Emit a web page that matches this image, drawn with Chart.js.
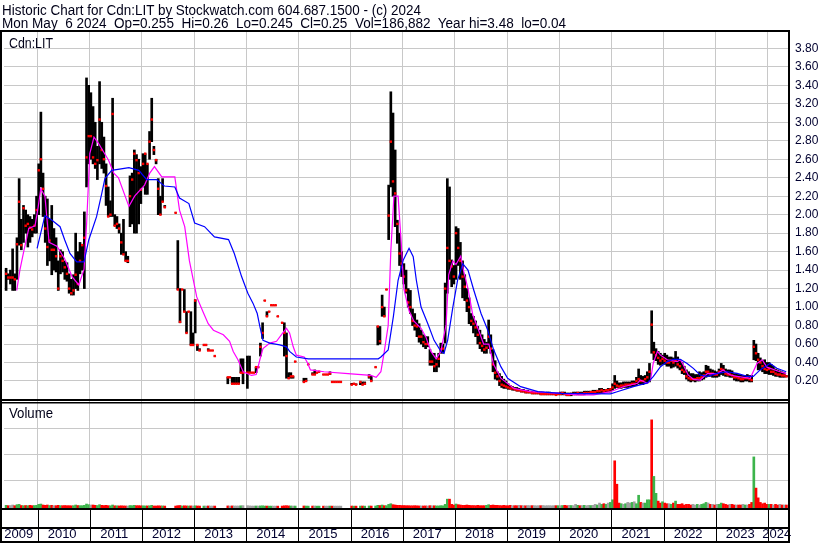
<!DOCTYPE html>
<html><head><meta charset="utf-8">
<script src="https://cdn.jsdelivr.net/npm/chart.js@4.4.1/dist/chart.umd.min.js"></script>
<style>
html,body{margin:0;padding:0;background:#fff;}
#wrap{position:relative;width:830px;height:543px;overflow:hidden;background:#fff;}
canvas{position:absolute;left:0;top:0;}
.t{position:absolute;font-family:"Liberation Sans",Arial,sans-serif;font-size:14px;line-height:16px;color:#000018;white-space:pre;transform-origin:0 0;}
</style></head><body>
<div id="wrap">
<canvas id="c" width="830" height="543"></canvas>
<div class="t" id="h1" style="left:2px;top:2px">Historic Chart for Cdn:LIT by Stockwatch.com 604.687.1500 - (c) 2024</div>
<div class="t" id="h2" style="left:2px;top:15px">Mon May  6 2024  Op=0.255  Hi=0.26  Lo=0.245  Cl=0.25  Vol=186,882  Year hi=3.48  lo=0.04</div>
<div class="t" id="l1" style="left:9px;top:35px">Cdn:LIT</div>
<div class="t" id="l2" style="left:9px;top:405px">Volume</div>
</div>
<script>
// ---- data: half-month bars, first bar = second half of May 2009 ----
const years = [2009,2010,2011,2012,2013,2014,2015,2016,2017,2018,2019,2020,2021,2022,2023,2024];
const hi = [
/*2009*/1.42,1.36,1.40,1.63,1.36,1.75,2.39,1.95,2.10,2.05,2.00,1.98,1.95,2.00,2.20,
/*2010*/2.55,3.11,2.45,2.20,2.17,1.95,2.10,1.85,1.75,1.50,1.62,1.60,1.50,1.48,1.36,1.30,1.35,1.80,1.60,1.70,1.68,2.03,3.48,3.40,
/*2011*/3.32,3.17,3.00,2.74,3.44,3.00,2.84,2.55,2.30,2.15,3.26,2.00,1.98,1.90,1.80,1.95,1.60,1.55,2.42,2.45,2.70,2.65,2.60,2.52,
/*2012*/2.66,2.66,2.55,2.90,3.26,2.74,2.60,2.39,2.20,2.39,2.10,null,null,null,null,2.02,1.72,1.20,1.19,1.19,0.95,0.95,0.95,0.72,
/*2013*/1.08,0.59,0.55,null,0.59,0.59,0.55,0.53,0.53,0.47,null,null,null,null,null,0.24,0.24,0.24,0.24,0.24,0.24,0.44,0.44,null,
/*2014*/0.47,0.47,0.29,0.29,0.35,0.35,0.61,0.83,1.07,0.95,0.95,1.02,1.02,1.02,0.90,null,0.83,0.83,0.72,0.29,0.29,0.25,0.41,null,
/*2015*/null,null,0.23,0.23,0.38,null,0.29,0.32,0.29,0.30,null,0.27,0.27,0.27,0.30,0.19,0.19,0.19,0.19,0.19,null,null,null,null,
/*2016*/0.175,0.17,0.17,null,0.19,0.19,0.19,null,0.27,0.25,null,0.35,0.79,0.79,1.13,1.00,1.19,2.32,3.33,3.10,2.70,1.94,1.80,1.60,
/*2017*/1.47,1.40,1.20,1.18,0.98,0.93,0.86,0.82,0.75,0.70,0.68,0.68,0.54,0.50,0.50,0.45,0.50,0.61,0.60,1.26,2.39,2.30,1.51,1.45,
/*2018*/1.87,1.85,1.70,1.50,1.35,1.20,1.10,0.93,0.90,0.85,0.79,0.75,0.70,0.65,0.62,0.86,0.70,0.54,0.42,0.30,0.28,0.25,0.22,0.20,
/*2019*/.17,.15,.14,.13,.13,.12,.11,.11,.10,.10,.09,.09,.08,.08,.08,.08,.08,.07,.08,.08,.07,.07,.07,.07,
/*2020*/.08,.08,.08,.07,.07,.07,.08,.08,.08,.08,.08,.09,.09,.09,.09,.10,.10,.10,.12,.12,.11,.11,.12,.12,
/*2021*/.17,.26,.20,.18,.18,.19,.19,.19,.19,.20,.20,.24,.33,.26,.25,.26,.30,.39,.96,.62,.55,.52,.50,.48,
/*2022*/.50,.48,.46,.46,.45,.52,.46,.43,.40,.36,.32,.30,.28,.28,.27,.27,.30,.29,.30,.37,.36,.33,.32,.31,
/*2023*/.30,.33,.39,.37,.33,.32,.32,.31,.28,.28,.27,.27,.26,.26,.27,.26,.26,.64,.60,.50,.45,.42,.43,.40,
/*2024*/.40,.38,.36,.33,.32,.31,.30,.29,.26
];
const lo = [
/*2009*/1.18,1.30,1.25,1.18,1.18,1.30,1.67,1.62,1.70,1.80,1.65,1.70,1.76,1.80,1.80,
/*2010*/2.00,2.30,1.98,1.70,1.45,1.50,1.35,1.40,1.38,1.18,1.36,1.38,1.30,1.28,1.15,1.13,1.13,1.20,1.18,1.36,1.40,1.20,2.30,2.55,
/*2011*/2.60,2.55,2.50,2.38,2.55,2.50,2.45,2.10,1.98,1.98,1.98,1.88,1.85,1.80,1.57,1.57,1.50,1.48,1.87,1.90,1.80,1.80,1.90,2.12,
/*2012*/2.30,2.22,2.22,2.60,2.79,2.65,2.55,2.00,2.00,2.14,2.08,null,null,null,null,2.02,1.19,0.83,1.19,0.95,0.72,0.95,0.59,0.59,
/*2013*/0.72,0.53,0.53,null,0.59,0.59,0.53,0.53,0.53,0.47,null,null,null,null,null,0.17,0.24,0.17,0.17,0.17,0.17,0.29,0.17,null,
/*2014*/0.12,0.29,0.29,0.29,0.29,0.35,0.47,0.66,1.07,0.90,0.95,1.02,1.02,1.02,0.90,null,0.83,0.47,0.23,0.23,0.23,0.23,0.41,null,
/*2015*/null,null,0.19,0.20,0.38,null,0.27,0.27,0.29,0.30,null,0.27,0.27,0.27,0.27,0.19,0.19,0.19,0.19,0.19,null,null,null,null,
/*2016*/0.16,0.16,0.16,null,0.16,0.16,0.16,null,0.23,0.20,null,0.35,0.59,0.60,0.90,0.90,1.19,1.73,2.30,2.20,1.87,1.69,1.45,1.33,
/*2017*/1.25,1.15,1.00,0.93,0.80,0.75,0.68,0.62,0.60,0.57,0.55,0.57,0.37,0.37,0.30,0.30,0.35,0.50,0.50,0.61,1.15,1.30,1.22,1.25,
/*2018*/1.30,1.45,1.30,1.10,1.07,0.95,0.82,0.80,0.72,0.68,0.60,0.55,0.52,0.50,0.50,0.55,0.50,0.30,0.22,0.21,0.15,0.13,0.12,0.12,
/*2019*/.11,.11,.10,.10,.09,.09,.08,.08,.07,.07,.07,.06,.06,.06,.06,.05,.05,.05,.05,.05,.05,.05,.05,.05,
/*2020*/.05,.05,.05,.04,.04,.04,.05,.05,.05,.05,.05,.05,.06,.06,.06,.06,.07,.07,.07,.07,.07,.08,.08,.08,
/*2021*/.10,.12,.13,.12,.12,.13,.13,.13,.14,.14,.15,.15,.17,.16,.16,.17,.18,.19,.50,.43,.42,.38,.37,.38,
/*2022*/.38,.36,.36,.34,.35,.36,.34,.32,.28,.27,.22,.20,.19,.20,.19,.20,.20,.21,.22,.24,.25,.25,.24,.24,
/*2023*/.24,.25,.27,.26,.25,.25,.24,.24,.21,.20,.20,.19,.19,.20,.20,.19,.19,.43,.42,.32,.32,.30,.28,.28,
/*2024*/.27,.27,.26,.25,.25,.24,.24,.24,.245
];
const cl = [
/*2009*/1.36,1.32,1.32,1.32,1.30,1.68,2.14,1.67,2.07,1.88,1.90,1.86,1.84,1.88,2.05,
/*2010*/2.48,2.60,2.28,1.85,1.65,1.72,1.62,1.62,1.55,1.20,1.55,1.50,1.43,1.36,1.20,1.15,1.18,1.35,1.25,1.50,1.67,1.75,2.62,2.85,
/*2011*/2.85,2.62,2.55,2.59,3.03,2.70,2.60,2.31,1.98,2.00,3.09,1.88,1.90,1.85,1.70,1.57,1.50,1.50,2.20,2.38,2.66,2.59,2.45,2.27,
/*2012*/2.55,2.66,2.55,2.79,3.03,2.70,2.59,2.28,2.00,2.14,2.08,null,null,null,null,2.02,1.19,0.84,1.19,0.95,0.72,0.95,0.59,0.59,
/*2013*/1.07,0.59,0.53,null,0.59,0.59,0.53,0.53,0.53,0.47,null,null,null,null,null,0.24,0.24,0.17,0.17,0.17,0.17,0.29,0.29,null,
/*2014*/0.29,0.29,0.29,0.29,0.35,0.35,0.57,0.72,1.07,0.90,0.95,1.02,1.02,1.02,0.90,null,0.83,0.72,0.47,0.23,0.25,0.25,0.41,null,
/*2015*/null,null,0.19,0.20,0.38,null,0.27,0.27,0.29,0.30,null,0.27,0.27,0.27,0.28,0.19,0.19,0.19,0.19,0.19,null,null,null,null,
/*2016*/0.16,0.17,0.16,null,0.19,0.16,0.17,null,0.25,0.20,null,0.35,0.79,0.63,1.00,0.90,1.19,1.99,2.79,2.36,2.23,1.90,1.58,1.47,
/*2017*/1.33,1.18,1.05,1.00,0.85,0.80,0.79,0.68,0.68,0.62,0.60,0.60,0.41,0.41,0.36,0.38,0.44,0.54,0.55,1.20,1.64,1.50,1.44,1.33,
/*2018*/1.80,1.64,1.50,1.33,1.22,1.07,1.00,0.85,0.82,0.78,0.70,0.61,0.58,0.54,0.56,0.68,0.55,0.38,0.29,0.25,0.20,0.16,0.15,0.14,
/*2019*/.13,.12,.12,.11,.10,.10,.09,.09,.08,.08,.08,.07,.07,.07,.07,.06,.06,.06,.06,.06,.06,.06,.05,.06,
/*2020*/.06,.07,.06,.05,.05,.06,.06,.06,.07,.06,.06,.07,.07,.07,.08,.08,.08,.09,.09,.10,.09,.10,.10,.11,
/*2021*/.13,.17,.15,.14,.15,.15,.16,.16,.16,.17,.17,.20,.22,.20,.20,.22,.24,.30,.81,.51,.48,.45,.42,.44,
/*2022*/.42,.40,.40,.42,.40,.42,.38,.36,.32,.30,.25,.23,.22,.22,.22,.23,.23,.24,.26,.30,.30,.28,.28,.27,
/*2023*/.27,.30,.33,.32,.28,.27,.27,.26,.24,.24,.23,.22,.22,.23,.23,.22,.21,.57,.50,.43,.40,.36,.33,.32,
/*2024*/.33,.30,.30,.28,.27,.27,.26,.26,.25
];
// volume in millions of shares
const vol = [
/*2009*/.15,.10,.12,.20,.10,.25,.30,.12,.10,.12,.10,.15,.10,.12,.15,
/*2010*/.30,.35,.20,.15,.20,.12,.15,.10,.10,.15,.10,.10,.12,.10,.10,.08,.10,.20,.12,.10,.10,.15,.35,.25,
/*2011*/.20,.20,.15,.12,.25,.15,.12,.15,.10,.08,.20,.08,.08,.06,.08,.06,.05,.05,.12,.10,.15,.10,.10,.08,
/*2012*/.08,.06,.06,.08,.15,.05,.05,.08,.06,.06,.04,null,null,null,null,.04,.10,.12,.05,.08,.06,.05,.06,.05,
/*2013*/.08,.05,.04,null,.04,.04,.05,.04,.04,.04,null,null,null,null,null,.06,.04,.06,.05,.05,.05,.08,.10,null,
/*2014*/.10,.06,.04,.04,.05,.04,.06,.08,.04,.04,.03,.03,.03,.03,.03,null,.04,.08,.10,.06,.05,.04,.04,null,
/*2015*/null,null,.05,.04,.03,null,.04,.05,.03,.03,null,.03,.03,.03,.04,.03,.03,.03,.03,.03,null,null,null,null,
/*2016*/.04,.03,.03,null,.04,.04,.03,null,.05,.04,null,.05,.15,.12,.20,.10,.10,.30,.40,.25,.20,.15,.15,.12,
/*2017*/.12,.10,.10,.08,.08,.10,.08,.06,.06,.05,.06,.05,.10,.08,.08,.06,.06,.10,.08,.30,1.1,1.1,.30,.20,
/*2018*/.35,.25,.20,.15,.15,.20,.15,.12,.12,.10,.15,.10,.10,.10,.15,.25,.15,.20,.15,.15,.12,.10,.15,.10,
/*2019*/.10,.15,.10,.10,.10,.15,.10,.10,.08,.12,.10,.10,.10,.08,.10,.10,.12,.08,.10,.10,.08,.10,.10,.10,
/*2020*/.10,.12,.15,.10,.15,.12,.10,.30,.15,.10,.12,.15,.10,.15,.12,.15,.30,.20,.50,.30,.40,.30,.50,.60,
/*2021*/1.0,7.0,3.4,.50,.40,.30,.40,.60,.50,.60,.70,.40,1.7,.60,.50,.50,1.0,1.0,13.3,4.6,2.0,.80,.50,.70,
/*2022*/.50,.40,.40,.30,.50,.80,.30,.30,.40,.20,.30,.30,.20,.30,.20,.30,.20,.30,.40,.60,.50,.30,.30,.20,
/*2023*/.30,.30,.50,.40,.30,.20,.30,.30,.20,.20,.20,.20,.30,.20,.20,.30,.60,7.6,2.8,1.3,.60,.40,.50,.30,
/*2024*/.30,.30,.20,.30,.20,.30,.20,.20,.20
];
const volColorFix = [[2021,1,'r'],[2021,2,'r'],[2021,18,'r'],[2021,19,'g'],[2021,20,'g']];
// short moving average (magenta)
const fastX = [2009.60,2009.66,2009.74,2009.83,2009.95,2010.01,2010.06,2010.14,2010.22,2010.37,2010.52,2010.66,2010.79,2010.89,2010.94,2011.00,2011.08,2011.17,2011.36,2011.46,2011.55,2011.75,2011.86,2012.05,2012.15,2012.24,2012.38,2012.63,2012.72,2012.82,2012.91,2013.05,2013.17,2013.27,2013.37,2013.56,2013.68,2013.75,2013.84,2013.94,2014.10,2014.19,2014.26,2014.32,2014.45,2014.58,2014.70,2014.77,2014.83,2014.90,2014.96,2015.11,2015.17,2015.23,2015.49,2015.95,2016.39,2016.49,2016.58,2016.64,2016.72,2016.77,2016.83,2016.91,2016.97,2017.02,2017.12,2017.21,2017.35,2017.44,2017.54,2017.64,2017.73,2017.83,2017.88,2017.96,2018.02,2018.11,2018.17,2018.25,2018.34,2018.44,2018.55,2018.65,2018.74,2018.88,2019.13,2019.45,2020.03,2020.35,2020.66,2020.98,2021.23,2021.50,2021.55,2021.69,2021.75,2021.80,2021.88,2021.94,2022.07,2022.26,2022.32,2022.38,2022.47,2022.57,2022.70,2022.84,2023.03,2023.14,2023.28,2023.41,2023.66,2023.79,2023.89,2023.98,2024.23,2024.35];
const fastY = [1.18,1.40,1.62,1.85,1.88,2.08,2.28,2.20,1.70,1.66,1.52,1.33,1.24,1.41,1.91,2.66,2.84,2.77,2.59,2.45,2.40,2.09,2.20,2.32,2.45,2.52,2.41,2.41,2.05,1.87,1.50,1.11,0.95,0.82,0.75,0.70,0.63,0.52,0.43,0.30,0.26,0.27,0.43,0.55,0.61,0.63,0.72,0.77,0.72,0.57,0.48,0.46,0.40,0.32,0.30,0.28,0.26,0.24,0.30,0.50,0.80,1.60,2.20,2.20,1.70,1.20,0.96,0.85,0.77,0.68,0.52,0.44,0.52,0.81,1.35,1.50,1.46,1.55,1.38,1.20,0.92,0.77,0.60,0.60,0.38,0.23,0.12,0.085,0.067,0.05,0.05,0.084,0.138,0.175,0.21,0.175,0.21,0.39,0.52,0.48,0.43,0.41,0.43,0.37,0.265,0.218,0.21,0.28,0.28,0.32,0.265,0.25,0.23,0.39,0.43,0.35,0.30,0.28];
// long moving average (blue)
const slowX = [2009.99,2010.14,2010.27,2010.43,2010.52,2010.62,2010.75,2010.89,2010.98,2011.13,2011.23,2011.29,2011.42,2011.75,2011.94,2012.09,2012.28,2012.43,2012.63,2012.72,2012.90,2013.01,2013.20,2013.39,2013.66,2013.77,2013.91,2014.03,2014.13,2014.21,2014.26,2014.32,2014.45,2014.64,2014.77,2014.83,2014.96,2015.19,2015.95,2016.53,2016.58,2016.72,2016.82,2016.91,2017.01,2017.12,2017.20,2017.26,2017.35,2017.48,2017.60,2017.73,2017.79,2017.86,2017.96,2018.05,2018.15,2018.25,2018.36,2018.50,2018.63,2018.74,2018.88,2019.01,2019.26,2019.59,2020.03,2020.98,2021.11,2021.42,2021.69,2021.80,2021.94,2022.07,2022.19,2022.32,2022.45,2022.57,2022.70,2022.84,2023.03,2023.22,2023.41,2023.60,2023.72,2023.85,2024.04,2024.17,2024.35];
const slowY = [1.636,1.989,1.942,1.87,1.726,1.58,1.49,1.49,1.726,1.978,2.23,2.39,2.48,2.51,2.48,2.38,2.38,2.31,2.30,2.18,2.12,1.91,1.87,1.76,1.73,1.58,1.33,1.15,1.04,0.93,0.79,0.64,0.61,0.59,0.57,0.52,0.46,0.44,0.44,0.44,0.46,0.535,0.9,1.29,1.51,1.636,1.545,1.29,1.0,0.82,0.64,0.52,0.5,0.64,1.0,1.29,1.47,1.40,1.185,0.93,0.75,0.54,0.355,0.229,0.139,0.085,0.067,0.06,0.084,0.139,0.18,0.247,0.355,0.41,0.435,0.435,0.39,0.337,0.265,0.25,0.283,0.30,0.283,0.25,0.25,0.32,0.39,0.337,0.30];
const priceTicks = [0.2,0.4,0.6,0.8,1.0,1.2,1.4,1.6,1.8,2.0,2.2,2.4,2.6,2.8,3.0,3.2,3.4,3.6,3.8];
const volTicks = [4,8,12];
const yearLabelAt = [2009.637,2010.47,2011.47,2012.47,2013.47,2014.47,2015.47,2016.47,2017.47,2018.47,2019.47,2020.47,2021.47,2022.47,2023.47,2024.17];

// ---- build ----
const FONT = '"Liberation Sans", Arial, sans-serif';
const TXT = '#000030';
const GRID = '#c8c8c8';
function slotYear(i){ const h = 9 + i; return 2009 + (h + 0.5) / 24; }
function slotIndex(y,k){ return y === 2009 ? k - 9 : 15 + (y - 2010) * 24 + k; }
const fix = {}; volColorFix.forEach(([y,k,c]) => fix[slotIndex(y,k)] = c);
const hl = [], closes = [], vols = [], volCols = [];
let prev = null;
for (let i = 0; i < hi.length; i++) {
  if (hi[i] == null) continue;
  const x = slotYear(i);
  hl.push({x, y:[lo[i], hi[i]]});
  closes.push({x, y: cl[i]});
  let c = prev == null ? 'g' : (cl[i] > prev ? 'g' : (cl[i] < prev ? 'r' : 'n'));
  if (fix[i]) c = fix[i];
  if (vol[i] != null) { vols.push({x, y: vol[i]}); volCols.push(c === 'g' ? '#3cb44b' : c === 'r' ? '#ff0000' : '#a0a0a0'); }
  prev = cl[i];
}
const fast = fastX.map((x,i) => ({x, y: fastY[i]}));
const slow = slowX.map((x,i) => ({x, y: slowY[i]}));

const yearStarts = years.slice(1);
const xTicks = yearStarts.concat(yearLabelAt).sort((a,b)=>a-b);

const frame = {
  id: 'frame',
  afterDraw(chart) {
    const c = chart.ctx; c.save(); c.fillStyle = '#000';
    c.fillRect(0, 30, 790, 2);
    c.fillRect(0, 30, 2, 513);
    c.fillRect(788, 30, 2, 513);
    c.fillRect(0, 399, 790, 2);
    c.fillRect(0, 402, 790, 1.5);
    c.fillRect(0, 508, 790, 2);
    c.fillRect(0, 527, 790, 2);
    c.fillRect(0, 541, 790, 2);
    const xs = chart.scales.x;
    yearStarts.forEach(y => { const px = Math.round(xs.getPixelForValue(y)); c.fillRect(px, 510, 1, 31); });
    c.restore();
  }
};

new Chart(document.getElementById('c'), {
  type: 'bar',
  data: { datasets: [
    { type:'line', data: slow, borderColor:'#0000ff', borderWidth:1.2, pointRadius:0, tension:0, yAxisID:'y', order:1 },
    { type:'line', data: fast, borderColor:'#ff00ff', borderWidth:1.2, pointRadius:0, tension:0, yAxisID:'y', order:2 },
    { type:'line', data: closes, showLine:false, pointStyle:'rect', pointRadius:1.7, pointBackgroundColor:'#ff0000', pointBorderWidth:0, yAxisID:'y', order:3 },
    { type:'bar', data: hl, backgroundColor:'#000000', barThickness:2, grouped:false, yAxisID:'y', order:4 },
    { type:'bar', data: vols, backgroundColor: volCols, barThickness:2, grouped:false, base:-0.26, yAxisID:'yVol', order:5 }
  ]},
  options: {
    responsive:false, animation:false, devicePixelRatio:1,
    layout: { padding: { left:2, top:32, right:0, bottom:0 } },
    plugins: { legend:{display:false}, tooltip:{enabled:false} },
    scales: {
      x: { type:'linear', position:'bottom', min:2009.3556, max:2024.3843, offset:false,
        afterBuildTicks: s => { s.ticks = xTicks.map(v => ({value:v})); },
        afterFit: s => { s.height = 35; s.paddingLeft = 0; s.paddingRight = 0; },
        border:{display:false},
        grid:{ offset:false, drawTicks:false, lineWidth:1, color: ctx => (ctx.tick && Number.isInteger(ctx.tick.value)) ? GRID : 'rgba(0,0,0,0)' },
        ticks:{ autoSkip:false, maxRotation:0, minRotation:0, padding:19, color:TXT, font:{family:FONT, size:13},
          callback: v => Number.isInteger(v) ? '' : String(Math.floor(v)) }
      },
      yVol: { type:'linear', position:'right', weight:0, min:-0.26, max:72.97,
        afterBuildTicks: s => { s.ticks = volTicks.map(v => ({value:v})); },
        afterFit: s => { s.width = 0; s.paddingTop = 0; s.paddingBottom = 0; },
        border:{display:false},
        grid:{ drawTicks:false, color:GRID, lineWidth:1 },
        ticks:{ padding:7, color:TXT, font:{family:FONT, size:12}, callback: v => v.toFixed(1) + ' M' }
      },
      y: { type:'linear', position:'right', weight:1, min:-1.1745, max:3.977,
        afterBuildTicks: s => { s.ticks = priceTicks.map(v => ({value:v})); },
        afterFit: s => { s.width = 42; s.paddingTop = 0; s.paddingBottom = 0; },
        border:{display:false},
        grid:{ drawTicks:false, color:GRID, lineWidth:1 },
        ticks:{ padding:7, color:TXT, font:{family:FONT, size:12}, callback: v => v.toFixed(2) }
      }
    }
  },
  plugins:[frame]
});

function fitText(id, w){ const el = document.getElementById(id); const r = el.getBoundingClientRect(); if (r.width > 0) el.style.transform = 'scaleX(' + (w / r.width) + ')'; }
fitText('h1', 419); fitText('h2', 564); fitText('l1', 44); fitText('l2', 44);
</script>
</body></html>
